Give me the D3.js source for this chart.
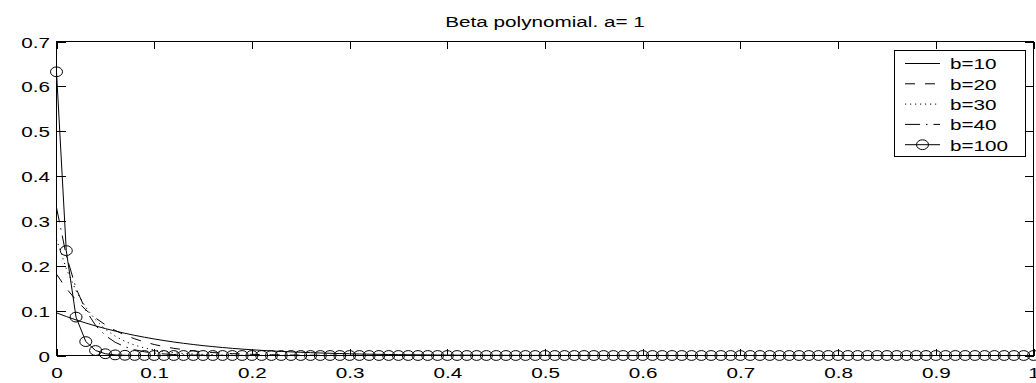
<!DOCTYPE html>
<html>
<head>
<meta charset="utf-8">
<script src="https://cdn.jsdelivr.net/npm/d3@7"></script>
<style>
  body { margin: 0; background: #fff; }
  svg { display: block; }
  text { font-family: "Liberation Sans", Arial, sans-serif; font-size: 15px; fill: #000; }
</style>
</head>
<body>
<svg id="chart" width="1036" height="383"></svg>
<script>
// ---- data ---------------------------------------------------------------
const title = "Beta polynomial. a= 1";
const seriesNames = ["b=10", "b=20", "b=30", "b=40", "b=100"];

const xTicks = [0, 0.1, 0.2, 0.3, 0.4, 0.5, 0.6, 0.7, 0.8, 0.9, 1];
const xTickLabels = ["0", "0.1", "0.2", "0.3", "0.4", "0.5", "0.6", "0.7", "0.8", "0.9", "1"];
const yTicks = [0, 0.1, 0.2, 0.3, 0.4, 0.5, 0.6, 0.7];
const yTickLabels = ["0", "0.1", "0.2", "0.3", "0.4", "0.5", "0.6", "0.7"];

// sample grid: 101 points from 0 to 1 in steps of 0.01
const xValues = d3.range(101).map(i => i / 100);

const b10 = [
  0.09517,0.08694,0.07935,0.07235,0.06591,0.05998,0.05453,0.04953,0.04494,0.04073,
  0.03687,0.03334,0.03012,0.02718,0.02449,0.02204,0.01982,0.01779,0.01595,0.01428,
  0.01277,0.01141,0.01017,0.00906,0.00805,0.00715,0.00633,0.00560,0.00495,0.00436,
  0.00384,0.00337,0.00296,0.00259,0.00226,0.00197,0.00171,0.00149,0.00129,0.00111,
  0.00096,0.00082,0.00071,0.00060,0.00052,0.00044,0.00037,0.00031,0.00026,0.00022,
  0.00019,0.00015,0.00013,0.00011,0.00009,0.00007,0.00006,0.00005,0.00004,0.00003,
  0.00002,0.00002,0.00001,0.00001,0.00001,0.00001,0,0,0,0,
  0,0,0,0,0,0,0,0,0,0,
  0,0,0,0,0,0,0,0,0,0,
  0,0,0,0,0,0,0,0,0,0,
  0
];
const b20 = [
  0.18130,0.14978,0.12351,0.10164,0.08347,0.06841,0.05595,0.04566,0.03718,0.03021,
  0.02449,0.01981,0.01598,0.01286,0.01032,0.00827,0.00660,0.00526,0.00418,0.00331,
  0.00261,0.00206,0.00162,0.00126,0.00099,0.00077,0.00059,0.00046,0.00035,0.00027,
  0.00021,0.00016,0.00012,0.00009,0.00007,0.00005,0.00004,0.00003,0.00002,0.00002,
  0.00001,0.00001,0,0,0,0,0,0,0,0,
  0,0,0,0,0,0,0,0,0,0,
  0,0,0,0,0,0,0,0,0,0,
  0,0,0,0,0,0,0,0,0,0,
  0,0,0,0,0,0,0,0,0,0,
  0,0,0,0,0,0,0,0,0,0,
  0
];
const b30 = [
  0.25924,0.19369,0.14430,0.10717,0.07935,0.05857,0.04309,0.03160,0.02310,0.01682,
  0.01221,0.00883,0.00636,0.00457,0.00327,0.00233,0.00165,0.00117,0.00082,0.00058,
  0.00040,0.00028,0.00019,0.00013,0.00009,0.00006,0.00004,0.00003,0.00002,0.00001,
  0.00001,0,0,0,0,0,0,0,0,0,
  0,0,0,0,0,0,0,0,0,0,
  0,0,0,0,0,0,0,0,0,0,
  0,0,0,0,0,0,0,0,0,0,
  0,0,0,0,0,0,0,0,0,0,
  0,0,0,0,0,0,0,0,0,0,
  0,0,0,0,0,0,0,0,0,0,
  0
];
const b40 = [
  0.32977,0.22284,0.14998,0.10053,0.06711,0.04461,0.02953,0.01946,0.01276,0.00833,
  0.00542,0.00350,0.00225,0.00144,0.00092,0.00058,0.00037,0.00023,0.00014,0.00009,
  0.00005,0.00003,0.00002,0.00001,0.00001,0,0,0,0,0,
  0,0,0,0,0,0,0,0,0,0,
  0,0,0,0,0,0,0,0,0,0,
  0,0,0,0,0,0,0,0,0,0,
  0,0,0,0,0,0,0,0,0,0,
  0,0,0,0,0,0,0,0,0,0,
  0,0,0,0,0,0,0,0,0,0,
  0,0,0,0,0,0,0,0,0,0,
  0
];
const b100 = [
  0.63242,0.23382,0.08558,0.03100,0.01111,0.00394,0.00138,0.00048,0.00016,0.00006,
  0.00002,0,0,0,0,0,0,0,0,0,
  0,0,0,0,0,0,0,0,0,0,
  0,0,0,0,0,0,0,0,0,0,
  0,0,0,0,0,0,0,0,0,0,
  0,0,0,0,0,0,0,0,0,0,
  0,0,0,0,0,0,0,0,0,0,
  0,0,0,0,0,0,0,0,0,0,
  0,0,0,0,0,0,0,0,0,0,
  0,0,0,0,0,0,0,0,0,0,
  0
];

// ---- styles per series ------------------------------------------------
const seriesValues = [b10, b20, b30, b40, b100];
const dashes = [null, "10,10", "1.2,3.8", "15,6,1.5,6", null];
const hasMarker = [false, false, false, false, true];

// ---- layout -------------------------------------------------------------
const svg = d3.select("#chart");
const stretch = "scale(1.38,1)";   // wide glyph aspect of the figure text
const x = d3.scaleLinear().domain([0, 1]).range([56.5, 1033.5]);
const y = d3.scaleLinear().domain([0, 0.7]).range([355.5, 41.5]);

// title
svg.append("text")
  .attr("text-anchor", "middle")
  .attr("transform", `translate(${(x(0) + x(1)) / 2},27) ${stretch}`)
  .text(title);

// axes with inward ticks on all four sides
const gBottom = svg.append("g").attr("transform", `translate(0,${y(0)})`)
  .call(d3.axisBottom(x).tickValues(xTicks).tickSize(-7)
    .tickFormat((d, i) => xTickLabels[i]));
const gTop = svg.append("g").attr("transform", `translate(0,${y(0.7)})`)
  .call(d3.axisTop(x).tickValues(xTicks).tickSize(-7).tickFormat(""));
const gLeft = svg.append("g").attr("transform", `translate(${x(0)},0)`)
  .call(d3.axisLeft(y).tickValues(yTicks).tickSize(-9)
    .tickFormat((d, i) => yTickLabels[i]));
const gRight = svg.append("g").attr("transform", `translate(${x(1)},0)`)
  .call(d3.axisRight(y).tickValues(yTicks).tickSize(-9).tickFormat(""));

[gBottom, gTop, gLeft, gRight].forEach(g => {
  g.select(".domain").remove();
  g.selectAll(".tick line").attr("stroke", "#000").attr("stroke-width", 1)
    .attr("shape-rendering", "crispEdges");
  g.attr("font-family", null).attr("font-size", null);
});
gBottom.selectAll(".tick text")
  .attr("y", null).attr("dy", null).attr("x", null)
  .attr("text-anchor", "middle")
  .attr("transform", `translate(0,22.5) ${stretch}`);
gLeft.selectAll(".tick text")
  .attr("y", null).attr("dy", null).attr("x", null)
  .attr("text-anchor", "end")
  .attr("transform", `translate(-6.5,5.5) ${stretch}`);

// frame
svg.append("rect")
  .attr("x", x(0)).attr("y", y(0.7))
  .attr("width", x(1) - x(0)).attr("height", y(0) - y(0.7))
  .attr("fill", "none").attr("stroke", "#000").attr("stroke-width", 1)
  .attr("shape-rendering", "crispEdges");

// series
const line = d3.line().x((d, i) => x(xValues[i])).y(d => y(d));
seriesValues.forEach((vals, s) => {
  svg.append("path")
    .datum(vals)
    .attr("d", line)
    .attr("fill", "none")
    .attr("stroke", "#000")
    .attr("stroke-width", 1)
    .attr("stroke-dasharray", dashes[s]);
  if (hasMarker[s]) {
    svg.append("g").selectAll("ellipse")
      .data(vals)
      .join("ellipse")
      .attr("cx", (d, i) => x(xValues[i]))
      .attr("cy", d => y(d))
      .attr("rx", 6).attr("ry", 4.9)
      .attr("fill", "none").attr("stroke", "#000").attr("stroke-width", 1);
  }
});

// legend
const legend = svg.append("g");
legend.append("rect")
  .attr("x", 894.5).attr("y", 50.5).attr("width", 131).attr("height", 106)
  .attr("fill", "#fff").attr("stroke", "#000").attr("stroke-width", 1)
  .attr("shape-rendering", "crispEdges");
seriesNames.forEach((name, s) => {
  const ly = 63.5 + s * 20.3;
  legend.append("line")
    .attr("x1", 905).attr("x2", 940).attr("y1", ly).attr("y2", ly)
    .attr("stroke", "#000").attr("stroke-width", 1)
    .attr("stroke-dasharray", dashes[s]);
  if (hasMarker[s]) {
    legend.append("ellipse")
      .attr("cx", 922.5).attr("cy", ly).attr("rx", 6).attr("ry", 4.9)
      .attr("fill", "none").attr("stroke", "#000").attr("stroke-width", 1);
  }
  legend.append("text")
    .attr("transform", `translate(950,${ly + 5.8}) ${stretch}`)
    .text(name);
});
</script>
</body>
</html>
